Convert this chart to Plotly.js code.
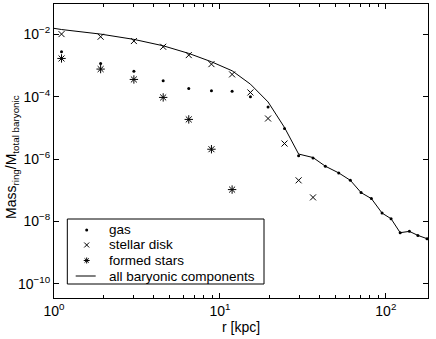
<!DOCTYPE html>
<html>
<head>
<meta charset="utf-8">
<script src="https://cdn.plot.ly/plotly-3.0.1.min.js"></script>
<style>
  html, body { margin: 0; padding: 0; background: #fff; }
  #plot { width: 436px; height: 339px; }
</style>
</head>
<body>
<div id="plot"></div>
<script>
// ring radii [kpc] and mass fractions
const gasR = [1.11, 1.91, 3.03, 4.55, 6.49, 8.89, 11.84, 15.27, 19.5, 24.5, 29.8, 36.4,
  43.2, 52.0, 61.1, 70.9, 81.8, 94.9, 107.5, 122, 138.6, 156, 177]
const gasM = [2.76e-3, 1.17e-3, 6.6e-4, 3.23e-4, 1.84e-4, 1.54e-4, 1.51e-4, 9.9e-5, 4.7e-5, 9.5e-6, 1.28e-6, 1.08e-6,
  5.9e-7, 3.6e-7, 2.08e-7, 8.4e-8, 5.4e-8, 1.85e-8, 1.22e-8, 4.35e-9, 4.8e-9, 3.56e-9, 2.8e-9]

const diskR = [1.11, 1.91, 3.03, 4.55, 6.49, 8.89, 11.84, 15.27, 19.5, 24.5, 29.8, 36.4]
const diskM = [1.02e-2, 8.4e-3, 6.1e-3, 4.0e-3, 2.16e-3, 1.11e-3, 5.2e-4, 1.37e-4, 2.0e-5, 3.15e-6, 2.08e-7, 5.9e-8]

const starR = [1.11, 1.91, 3.03, 4.55, 6.49, 8.89, 11.84]
const starM = [1.69e-3, 7.7e-4, 3.58e-4, 9.5e-5, 1.87e-5, 2.07e-6, 1.05e-7]

const totalR = [1.0, 1.11, 1.91, 3.03, 4.55, 6.49, 8.89, 11.84, 15.27, 19.5, 24.5, 29.8, 36.4,
  43.2, 52.0, 61.1, 70.9, 81.8, 94.9, 107.5, 122, 138.6, 156, 177]
const totalM = [1.56e-2, 1.43e-2, 1.02e-2, 6.9e-3, 4.3e-3, 2.45e-3, 1.32e-3, 6.8e-4, 2.53e-4, 6.8e-5, 1.03e-5, 1.45e-6, 1.12e-6,
  5.9e-7, 3.6e-7, 2.08e-7, 8.4e-8, 5.4e-8, 1.85e-8, 1.22e-8, 4.35e-9, 4.8e-9, 3.56e-9, 2.8e-9]

const seriesNames = ['gas', 'stellar disk', 'formed stars', 'all baryonic components']

// tick positions and labels
const xTicks = [1, 10, 100]
const xTickText = ['10<sup>0</sup>', '10<sup>1</sup>', '10<sup>2</sup>']
const xMinor = [2, 3, 4, 5, 6, 7, 8, 9, 20, 30, 40, 50, 60, 70, 80, 90]
const yTicks = [1e-10, 1e-8, 1e-6, 1e-4, 1e-2]
const yTickText = ['10<sup>−10</sup>', '10<sup>−8</sup>', '10<sup>−6</sup>', '10<sup>−4</sup>', '10<sup>−2</sup>']

const font = 'Liberation Sans, Arial, sans-serif'

const markerStyles = [
  { symbol: 'circle', size: 3, color: '#000' },
  { symbol: 'x-thin-open', size: 6, color: '#000', line: { width: 1, color: '#000' } },
  { symbol: 'asterisk-open', size: 7, color: '#000', line: { width: 1, color: '#000' } },
]
const legendSizes = [3, 5, 5]

const data = [
  { x: gasR, y: gasM, name: seriesNames[0], type: 'scatter', mode: 'markers', marker: markerStyles[0] },
  { x: diskR, y: diskM, name: seriesNames[1], type: 'scatter', mode: 'markers', marker: markerStyles[1] },
  { x: starR, y: starM, name: seriesNames[2], type: 'scatter', mode: 'markers', marker: markerStyles[2] },
  { x: totalR, y: totalM, name: seriesNames[3], type: 'scatter', mode: 'lines', line: { color: '#000', width: 1 } },
]

// hand-made legend box (plotly's own legend rows are too tall for this figure)
const leg = { x0: 0.0356, x1: 0.5615, y0: 0.0476, y1: 0.2687, sym: 0.0874, line0: 0.058, line1: 0.1115, text: 0.141 }
const legRows = [0.2313, 0.1803, 0.1276, 0.0748]

markerStyles.forEach((m, i) => {
  data.push({
    x: [leg.sym], y: [legRows[i]], xaxis: 'x2', yaxis: 'y2',
    type: 'scatter', mode: 'markers', marker: Object.assign({}, m, { size: legendSizes[i] }),
    showlegend: false, hoverinfo: 'skip',
  })
})

const shapes = [
  { type: 'rect', xref: 'paper', yref: 'paper', x0: leg.x0, x1: leg.x1, y0: leg.y0, y1: leg.y1,
    line: { color: '#000', width: 1 }, fillcolor: '#fff', layer: 'below' },
  { type: 'line', xref: 'paper', yref: 'paper', x0: leg.line0, x1: leg.line1, y0: legRows[3], y1: legRows[3],
    line: { color: '#000', width: 1 } },
]

const annotations = seriesNames.map((name, i) => ({
  text: name, xref: 'paper', yref: 'paper', x: leg.text, y: legRows[i],
  xanchor: 'left', yanchor: 'middle', showarrow: false,
  font: { family: font, size: 13.5, color: '#000' },
}))

// y axis title placed by hand, it sits close to the tick labels
annotations.push({
  text: 'Mass<sub>ring</sub>/M<sub>total baryonic</sub>', xref: 'paper', yref: 'paper',
  x: -0.112, y: 0.48, xanchor: 'center', yanchor: 'middle', textangle: -90, showarrow: false,
  font: { family: font, size: 14, color: '#000' },
})

const axisCommon = {
  type: 'log',
  showgrid: false,
  zeroline: false,
  showline: true,
  linecolor: '#000',
  linewidth: 1,
  mirror: 'ticks',
  ticks: 'inside',
  ticklen: 5,
  tickcolor: '#000',
  tickmode: 'array',
  tickfont: { family: font, size: 14, color: '#000' },
}

const layout = {
  width: 436,
  height: 339,
  margin: { l: 54, r: 8, t: 4, b: 41 },
  paper_bgcolor: '#fff',
  plot_bgcolor: '#fff',
  font: { family: font, color: '#000' },
  showlegend: false,
  shapes,
  annotations,
  xaxis: Object.assign({}, axisCommon, {
    range: [0, 2.254],
    tickvals: xTicks,
    ticktext: xTickText,
    minor: { ticks: 'inside', ticklen: 3, tickcolor: '#000', tickvals: xMinor },
    title: { text: 'r [kpc]', font: { family: font, size: 14, color: '#000' }, standoff: 2 },
  }),
  yaxis: Object.assign({}, axisCommon, {
    range: [-10.456, -1.026],
    tickvals: yTicks,
    ticktext: yTickText,
  }),
  xaxis2: { overlaying: 'x', range: [0, 1], visible: false, fixedrange: true },
  yaxis2: { overlaying: 'y', range: [0, 1], visible: false, fixedrange: true },
}

Plotly.newPlot('plot', data, layout, { displayModeBar: false, staticPlot: true })
</script>
</body>
</html>
